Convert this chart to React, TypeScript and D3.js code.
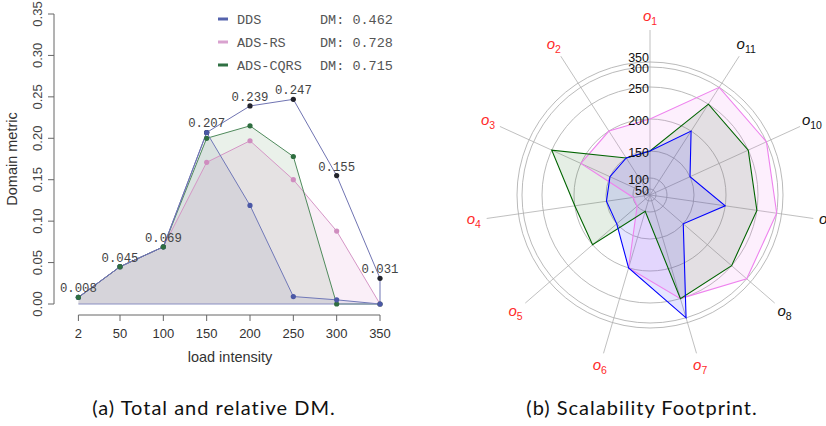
import React from "react";
import * as d3 from "d3";

// ---- left panel data: load intensity vs domain metric ----
const loads = [2, 50, 100, 150, 200, 250, 300, 350];
const totalDM = [0.008, 0.045, 0.069, 0.207, 0.239, 0.247, 0.155, 0.031];
const ddsDM = [0.008, 0.045, 0.069, 0.207, 0.119, 0.009, 0.005, 0.0];
const rsDM = [0.008, 0.045, 0.069, 0.171, 0.197, 0.15, 0.088, 0.0];
const cqrsDM = [0.008, 0.045, 0.069, 0.2, 0.215, 0.178, 0.0, 0.0];
const xTicks = [2, 50, 100, 150, 200, 250, 300, 350];
const yTicks = [0, 0.05, 0.1, 0.15, 0.2, 0.25, 0.3, 0.35];
const legendNames = ["DDS", "ADS-RS", "ADS-CQRS"];
const legendDM = ["0.462", "0.728", "0.715"];

// ---- right panel data: scalability footprint per operation ----
const ops = ["1", "2", "3", "4", "5", "6", "7", "8", "9", "10", "11"];
const opsRed = [true, true, true, true, true, true, true, false, false, false, false];
const ddsFoot = [150, 150, 150, 150, 150, 200, 300, 150, 200, 150, 200];
const rsFoot = [200, 200, 200, 100, 100, 200, 250, 300, 300, 300, 300];
const cqrsFoot = [150, 150, 250, 200, 200, 100, 250, 250, 250, 250, 250];
const rings = [50, 100, 150, 200, 250, 300, 350];

const sans = "'Liberation Sans', Arial, sans-serif";
const mono = "'Liberation Mono', 'Courier New', monospace";
const captionFont = "Lato, 'Open Sans', sans-serif";

const seriesLeft = [
  { vals: rsDM, line: "#d596c6", pt: "#cf8dbf", fill: "rgba(220,150,205,0.15)" },
  { vals: cqrsDM, line: "#4f8a5c", pt: "#2f6e40", fill: "rgba(60,125,60,0.11)" },
  { vals: ddsDM, line: "#7078b8", pt: "#4b58a6", fill: "rgba(70,80,130,0.09)" },
];
const legendColors = ["#5563ad", "#d9a2cf", "#2f7043"];

function LeftPanel() {
  const x = d3.scaleLinear().domain([50, 350]).range([120, 380]);
  const y = d3.scaleLinear().domain([0, 0.35]).range([304, 14]);
  const line = d3
    .line<number>()
    .x((_, i) => x(loads[i]))
    .y((d) => y(d));
  const area = d3
    .area<number>()
    .x((_, i) => x(loads[i]))
    .y0(y(0))
    .y1((d) => y(d));

  return (
    <g>
      {seriesLeft.map((s, k) => (
        <path key={"f" + k} d={area(s.vals) || ""} fill={s.fill} stroke="none" />
      ))}
      {seriesLeft.map((s, k) => (
        <path key={"l" + k} d={line(s.vals) || ""} fill="none" stroke={s.line} strokeWidth={1} />
      ))}
      {/* total line */}
      <path d={line(totalDM) || ""} fill="none" stroke="#7074b2" strokeWidth={1} />
      <line x1={x(350)} x2={x(350)} y1={y(totalDM[7])} y2={y(0)} stroke="#9ea2cc" strokeWidth={1.5} />
      <line x1={x(2)} x2={x(350)} y1={y(0)} y2={y(0)} stroke="#8a8fc2" strokeWidth={1} />
      {seriesLeft.map((s, k) =>
        s.vals.map((v, i) => (
          <circle key={"p" + k + i} cx={x(loads[i])} cy={y(v)} r={2.6} fill={s.pt} />
        ))
      )}
      {totalDM.map((v, i) =>
        i < 3 ? null : <circle key={"t" + i} cx={x(loads[i])} cy={y(v)} r={2.6} fill="#22232b" />
      )}
      {ddsDM.map((v, i) =>
        i === 3 ? <circle key="d3" cx={x(loads[i])} cy={y(v)} r={2.6} fill="#4b58a6" /> : null
      )}
      {cqrsDM.map((v, i) =>
        i < 3 ? <circle key={"c" + i} cx={x(loads[i])} cy={y(v)} r={2.6} fill="#2f6e40" /> : null
      )}
      {totalDM.map((v, i) => (
        <text key={"tl" + i} x={x(loads[i])} y={y(v) - 5} textAnchor="middle" fontFamily={mono} fontSize={12.3} fill="#444">
          {v.toFixed(3)}
        </text>
      ))}

      {/* y axis */}
      <line x1={54} x2={54} y1={y(0)} y2={y(0.35)} stroke="#666" />
      {yTicks.map((t) => (
        <g key={"yt" + t}>
          <line x1={48} x2={54} y1={y(t)} y2={y(t)} stroke="#666" />
          <text transform={`translate(42,${y(t)}) rotate(-90)`} textAnchor="middle" fontFamily={sans} fontSize={13} fill="#444">
            {t.toFixed(2)}
          </text>
        </g>
      ))}
      <text transform={`translate(17,159) rotate(-90)`} textAnchor="middle" fontFamily={sans} fontSize={14.5} fill="#333">
        Domain metric
      </text>

      {/* x axis */}
      <line x1={x(2)} x2={x(350)} y1={315} y2={315} stroke="#666" />
      {xTicks.map((t) => (
        <g key={"xt" + t}>
          <line x1={x(t)} x2={x(t)} y1={315} y2={321} stroke="#666" />
          <text x={x(t)} y={338} textAnchor="middle" fontFamily={sans} fontSize={13} fill="#333">
            {t}
          </text>
        </g>
      ))}
      <text x={230} y={362} textAnchor="middle" fontFamily={sans} fontSize={14.5} fill="#333">
        load intensity
      </text>

      {/* legend */}
      {legendNames.map((n, i) => (
        <g key={"lg" + i} transform={`translate(0,${19 + i * 23})`}>
          <line x1={218} x2={228} y1={0} y2={0} stroke={legendColors[i]} strokeWidth={3} />
          <text x={237} y={4.5} fontFamily={mono} fontSize={13.5} fill="#555">
            {n}
          </text>
          <text x={320} y={4.5} fontFamily={mono} fontSize={13.5} fill="#555">
            {"DM: " + legendDM[i]}
          </text>
        </g>
      ))}
    </g>
  );
}

const seriesRight = [
  { vals: rsFoot, line: "#ee82ee", fill: "rgba(238,130,238,0.13)" },
  { vals: cqrsFoot, line: "#006400", fill: "rgba(0,90,0,0.1)" },
  { vals: ddsFoot, line: "#0000ff", fill: "rgba(0,0,255,0.1)" },
];

function RightPanel() {
  const cx = 650;
  const cy = 195;
  const r = d3
    .scaleLinear()
    .domain([0, 50, 100, 150, 200, 250, 300, 350])
    .range([0, 6, 17, 44, 76, 108, 128, 133]);
  const ang = (i: number) => Math.PI / 2 + (i * 2 * Math.PI) / ops.length;
  const px = (i: number, rad: number) => cx + rad * Math.cos(ang(i));
  const py = (i: number, rad: number) => cy - rad * Math.sin(ang(i));
  const poly = (vals: number[]) =>
    (d3.line<number>().x((v, i) => px(i, r(v))).y((v, i) => py(i, r(v))).curve(d3.curveLinearClosed)(vals)) || "";

  return (
    <g>
      {rings.map((v) => (
        <circle key={"rg" + v} cx={cx} cy={cy} r={r(v)} fill="none" stroke="#a8a8a8" strokeWidth={0.8} />
      ))}
      {ops.map((_, i) => (
        <line key={"ax" + i} x1={cx} y1={cy} x2={px(i, 165)} y2={py(i, 165)} stroke="#b0b0b0" strokeWidth={0.8} />
      ))}
      {seriesRight.map((s, k) => (
        <path key={"pf" + k} d={poly(s.vals)} fill={s.fill} stroke="none" />
      ))}
      {seriesRight.map((s, k) => (
        <path key={"pl" + k} d={poly(s.vals)} fill="none" stroke={s.line} strokeWidth={1.1} />
      ))}
      {rings.map((v) => (
        <text
          key={"rl" + v}
          x={649}
          y={cy - r(v) + (v === 350 ? -4 : 2)}
          textAnchor="end"
          dominantBaseline="central"
          fontFamily={sans}
          fontSize={12.5}
          fill="#111"
        >
          {v}
        </text>
      ))}
      {ops.map((o, i) => (
        <text
          key={"ol" + i}
          x={px(i, 178)}
          y={py(i, 178) + 4}
          textAnchor="middle"
          fontFamily={sans}
          fontSize={15}
          fill={opsRed[i] ? "#ff2a2a" : "#111"}
        >
          <tspan fontStyle="italic">o</tspan>
          <tspan fontSize={10.5} dy={4}>
            {o}
          </tspan>
        </text>
      ))}
    </g>
  );
}

export default function App() {
  return (
    <svg width={826} height={426} style={{ position: "absolute", left: 0, top: 0, background: "#fff" }}>
      <LeftPanel />
      <RightPanel />
      <text x={214} y={415} textAnchor="middle" fontFamily={captionFont} fontSize={20} letterSpacing={1} fill="#111">
        (a) Total and relative DM.
      </text>
      <text x={642} y={415} textAnchor="middle" fontFamily={captionFont} fontSize={20} letterSpacing={1} fill="#111">
        (b) Scalability Footprint.
      </text>
    </svg>
  );
}
